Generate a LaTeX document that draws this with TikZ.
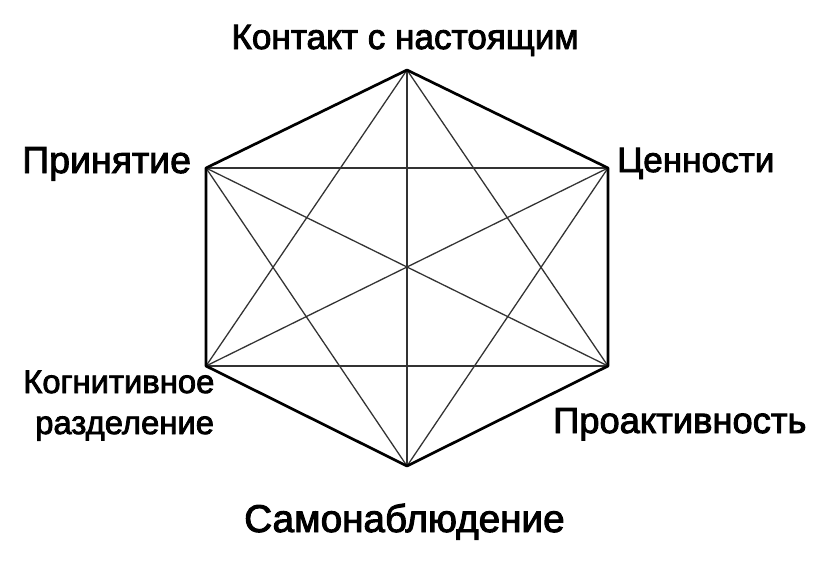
\documentclass[tikz,border=0pt]{standalone}
\usepackage{fontspec}
\setmainfont{Liberation Sans}
\newfontfamily\lblfont[FakeBold=2.5]{Liberation Sans}
\usetikzlibrary{positioning}
\tikzset{
  rim/.style={line width=2.3pt, line join=round},
  chord/.style={line width=1.1pt, black!80},
  lbl/.style={inner sep=0pt, anchor=base west},
}
\begin{document}
\begin{tikzpicture}[x=0.03cm, y=-0.03cm]
			%%%%% START %%%%%
			\useasboundingbox (0, 0) rectangle (814, 581);
			
			\coordinate (top) at (407, 70);
			\coordinate (ur) at (608, 168);
			\coordinate (lr) at (608, 366);
			\coordinate (bot) at (407, 466);
			\coordinate (ll) at (206, 366);
			\coordinate (ul) at (206, 168);
			
			\foreach \a/\b in {top/lr, top/bot, top/ll, ur/bot, ur/ll, ur/ul, lr/ll, lr/ul, bot/ul}
				\draw[chord] (\a) -- (\b);
			
			\draw[rim] (top) -- (ur) -- (lr) -- (bot) -- (ll) -- (ul) -- cycle;
			
			\node[lbl, anchor=base, font=\lblfont\fontsize{30}{34}\selectfont] (contact) at (405, 49) {Контакт с настоящим};
			\node[lbl, font=\lblfont\fontsize{32}{36}\selectfont] (accept) at (22, 173) {Принятие};
			\node[lbl, font=\lblfont\fontsize{30}{34}\selectfont] (values) at (617, 172) {Ценности};
			\node[lbl, font=\lblfont\fontsize{28}{35}\selectfont] (cogn) at (23, 393) {Когнитивное};
			\node[lbl, font=\lblfont\fontsize{28}{35}\selectfont] (split) at (35, 434) {разделение};
			\node[lbl, font=\lblfont\fontsize{31}{35}\selectfont] (proact) at (553, 433) {Проактивность};
			\node[lbl, font=\lblfont\fontsize{33}{38}\selectfont] (self) at (244, 532) {Самонаблюдение};
			
			%%%%% END %%%%%
		\end{tikzpicture}
\end{document}
